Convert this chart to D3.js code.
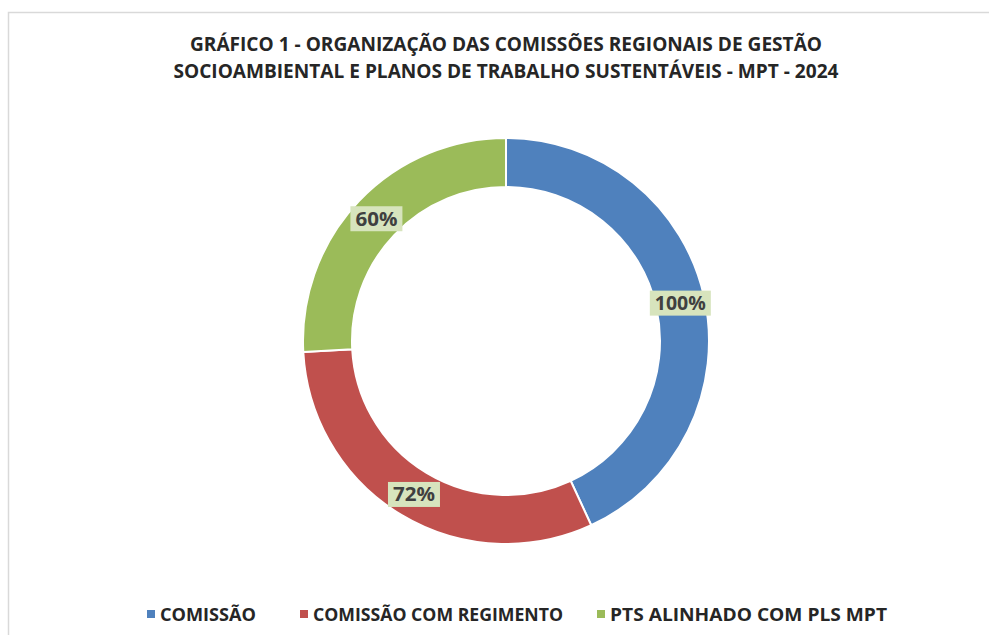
<!DOCTYPE html>
<html>
<head>
  <meta charset="utf-8">
  <script src="https://d3js.org/d3.v7.min.js"></script>
  <style>
    body { margin: 0; background: #fff; }
    text { font-family: "Open Sans", "DejaVu Sans", sans-serif; }
  </style>
</head>
<body>
<svg id="chart" width="989" height="635"></svg>
<script>
  const categories = ["COMISSÃO", "COMISSÃO COM REGIMENTO", "PTS ALINHADO COM PLS MPT"];
  const values = [100, 72, 60];
  const labels = ["100%", "72%", "60%"];
  const colors = ["#4f81bd", "#c0504d", "#9bbb59"];
  const titleLines = [
    "GRÁFICO 1 - ORGANIZAÇÃO DAS COMISSÕES REGIONAIS DE GESTÃO",
    "SOCIOAMBIENTAL E PLANOS DE TRABALHO SUSTENTÁVEIS - MPT - 2024"
  ];
  // measured widths of the condensed (Calibri-like) text in the original
  const titleWidths = [632, 665];
  const legendWidths = [96, 250, 277];
  const labelWidths = [51, 42, 42];

  const svg = d3.select("#chart");

  // chart area border (only top/left visible in frame)
  svg.append("rect")
    .attr("x", 8.5).attr("y", 12.5)
    .attr("width", 1000).attr("height", 700)
    .attr("fill", "#fff")
    .attr("stroke", "#d9d9d9")
    .attr("stroke-width", 1.5);

  svg.append("g").selectAll("text")
    .data(titleLines)
    .join("text")
    .attr("x", (d, i) => 506 - titleWidths[i] / 2)
    .attr("y", (d, i) => 51 + i * 27)
    .attr("font-size", 19.5)
    .attr("font-weight", "bold")
    .attr("fill", "#262626")
    .attr("textLength", (d, i) => titleWidths[i])
    .attr("lengthAdjust", "spacingAndGlyphs")
    .text(d => d);

  const cx = 506, cy = 341;
  const outerR = 203, innerR = 154;

  const pie = d3.pie().sort(null).value(d => d);
  const arcs = pie(values);
  const arc = d3.arc().innerRadius(innerR).outerRadius(outerR);
  const labelArc = d3.arc().innerRadius((innerR + outerR) / 2).outerRadius((innerR + outerR) / 2);

  const g = svg.append("g").attr("transform", `translate(${cx},${cy})`);

  g.selectAll("path")
    .data(arcs)
    .join("path")
    .attr("d", arc)
    .attr("fill", (d, i) => colors[i])
    .attr("stroke", "#fff")
    .attr("stroke-width", 2);

  const lbl = g.selectAll("g.lbl")
    .data(arcs)
    .join("g")
    .attr("class", "lbl")
    .attr("transform", d => `translate(${labelArc.centroid(d)})`);

  lbl.append("rect")
    .attr("x", (d, i) => -(labelWidths[i] + 10) / 2)
    .attr("y", -12)
    .attr("width", (d, i) => labelWidths[i] + 10)
    .attr("height", 25)
    .attr("fill", "#d7e4bd");

  lbl.append("text")
    .attr("x", (d, i) => -labelWidths[i] / 2)
    .attr("y", 7.5)
    .attr("font-size", 19)
    .attr("font-weight", "bold")
    .attr("fill", "#404040")
    .attr("textLength", (d, i) => labelWidths[i])
    .attr("lengthAdjust", "spacingAndGlyphs")
    .text((d, i) => labels[i]);

  // legend
  const legendX = [147, 300, 597];
  const legend = svg.append("g").selectAll("g")
    .data(categories)
    .join("g")
    .attr("transform", (d, i) => `translate(${legendX[i]},614)`);

  legend.append("rect")
    .attr("x", 0).attr("y", -4)
    .attr("width", 8).attr("height", 8)
    .attr("fill", (d, i) => colors[i]);

  legend.append("text")
    .attr("x", 13)
    .attr("y", 7)
    .attr("font-size", 18.5)
    .attr("font-weight", "bold")
    .attr("fill", "#262626")
    .attr("textLength", (d, i) => legendWidths[i])
    .attr("lengthAdjust", "spacingAndGlyphs")
    .text(d => d);
</script>
</body>
</html>
